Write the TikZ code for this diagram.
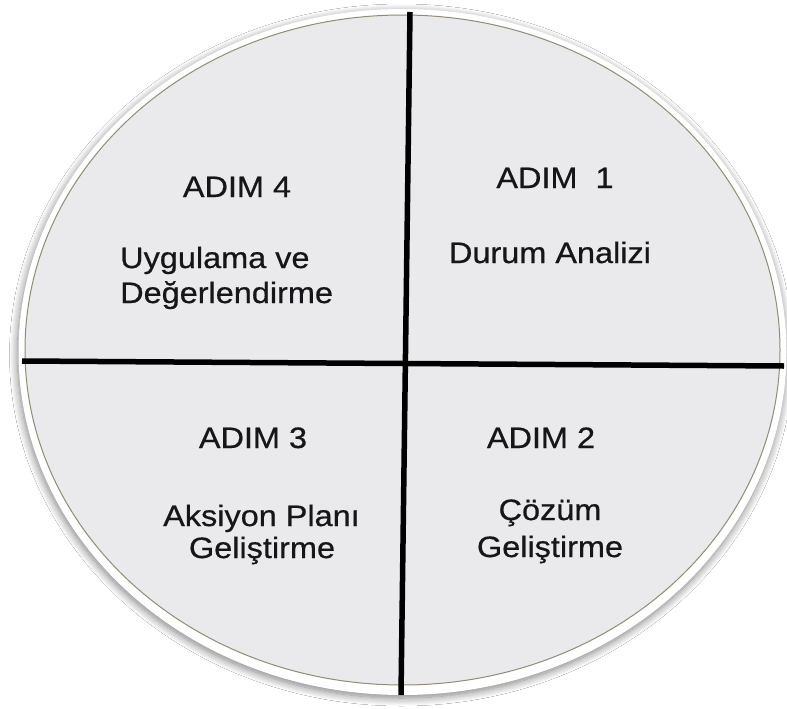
\documentclass[tikz,border=0pt]{standalone}
\usepackage{fontspec}
\setmainfont{Liberation Sans}[FakeStretch=1.1,FakeBold=0.6]
\usetikzlibrary{shadows.blur}
\definecolor{discfill}{RGB}{234,234,236}
\definecolor{rimline}{RGB}{145,140,115}
\definecolor{labelink}{RGB}{22,22,26}
\begin{document}
\begin{tikzpicture}[x=1pt,y=-1pt,
  divider/.style={line width=5.5pt,black,line cap=butt},
  steplabel/.style={inner sep=0pt,anchor=base,text=labelink,font=\fontsize{29.5}{31}\selectfont},
  leftlabel/.style={steplabel,anchor=base west}]
\useasboundingbox (0,0) rectangle (787,709);
\fill[white] (0,0) rectangle (787,709);

% disc: white rim with a soft shadow, grey face, thin olive edge
\path[fill=white,blur shadow={shadow xshift=-1pt,shadow yshift=-3pt,
  shadow blur radius=8pt,shadow blur steps=12,shadow opacity=50}]
  (402.5,352) ellipse [x radius=384, y radius=343];
\fill[discfill] (402.5,350) ellipse [x radius=377.5, y radius=335];
\draw[rimline,line width=1pt] (402.5,350) ellipse [x radius=377.5, y radius=335];

% quadrant dividers
\coordinate (hleft)  at (22,361);
\coordinate (hright) at (784,366);
\coordinate (vtop)   at (410,12);
\coordinate (vbot)   at (401,695);
\draw[divider] (hleft) -- (hright);
\draw[divider] (vtop) -- (vbot);

% step 4 (top left)
\node[steplabel] (s4title) at (237,197) {ADIM 4};
\node[leftlabel] (s4a) at (120,268) {Uygulama ve};
\node[leftlabel] (s4b) at (120,303) {Değerlendirme};

% step 1 (top right)
\node[steplabel] (s1title) at (555,188) {ADIM\ \ 1};
\node[steplabel] (s1a) at (550,263) {Durum Analizi};

% step 3 (bottom left)
\node[steplabel] (s3title) at (253,448) {ADIM 3};
\node[steplabel] (s3a) at (261.5,526) {Aksiyon Planı};
\node[steplabel] (s3b) at (262,558) {Geliştirme};

% step 2 (bottom right)
\node[steplabel] (s2title) at (541,448) {ADIM 2};
\node[steplabel] (s2a) at (550,520) {Çözüm};
\node[steplabel] (s2b) at (550,557) {Geliştirme};
\end{tikzpicture}
\end{document}
